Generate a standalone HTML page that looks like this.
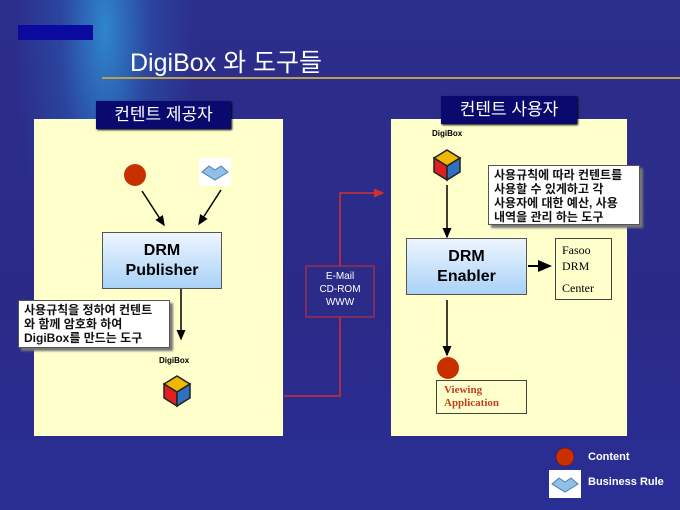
<!DOCTYPE html>
<html><head><meta charset="utf-8"><style>
body{margin:0;width:680px;height:510px;overflow:hidden;font-family:"Liberation Sans","Noto Sans CJK KR",sans-serif}
.bg{position:absolute;inset:0;background:radial-gradient(ellipse 90px 300px at 105px 30px,rgba(47,138,208,0.95) 0%,rgba(42,92,176,0.5) 50%,rgba(42,42,140,0) 100%),linear-gradient(180deg,#2c2e8c 0%,#2b2a88 60%,#2a2f95 100%)}
.a{position:absolute}
.panel{background:#ffffcc}
.lab{background:#0a0a6e;color:#fff;font-size:17px;text-align:center;box-shadow:1px 1px 2px #000}
.drm{background:linear-gradient(#eef5ff,#a9d2f7);border:1px solid #555;font-weight:bold;font-size:16px;text-align:center;line-height:20px;box-sizing:border-box}
.call{background:#fff;border:1px solid #555;box-shadow:3px 3px 2px #777;font-size:12px;line-height:14px;box-sizing:border-box;padding:2px 5px;font-weight:bold;color:#111}
.ser{font-family:"Liberation Serif","Noto Serif CJK SC",serif}
</style></head><body>
<div class="bg"></div>
<div class="a" style="left:18px;top:25px;width:75px;height:15px;background:#0a0a9e"></div>
<div class="a" style="left:130px;top:43px;color:#fff;font-size:25px">DigiBox 와 도구들</div>
<div class="a" style="left:102px;top:77px;width:578px;height:2px;background:#b8a050"></div>
<div class="a panel" style="left:34px;top:119px;width:249px;height:317px"></div>
<div class="a panel" style="left:391px;top:119px;width:236px;height:317px"></div>
<div class="a lab" style="left:96px;top:101px;width:135px;height:28px;line-height:28px">컨텐트 제공자</div>
<div class="a lab" style="left:441px;top:96px;width:136px;height:28px;line-height:28px">컨텐트 사용자</div>
<svg class="a" style="left:0;top:0" width="680" height="510">
<defs><marker id="m" markerWidth="7" markerHeight="7" refX="6" refY="3.5" orient="auto"><path d="M0,0.5 L7,3.5 L0,6.5z" fill="#000"/></marker>
<marker id="r" markerWidth="7" markerHeight="7" refX="6" refY="3.5" orient="auto"><path d="M0,0.5 L7,3.5 L0,6.5z" fill="#d03030"/></marker>
<g id="cube"><path d="M13,0 L26,8 L13,16 L0,8z" fill="#f0b800" stroke="#222" stroke-width="1.5"/><path d="M0,8 L13,16 L13,30 L0,22z" fill="#e02020" stroke="#222" stroke-width="1.5"/><path d="M26,8 L13,16 L13,30 L26,22z" fill="#3070c0" stroke="#222" stroke-width="1.5"/></g>
<g id="br"><rect width="32" height="28" fill="#fff"/><path d="M3,14 L10,8 L16,12 L22,8 L29,14 L16,22z" fill="#8ec0e8" stroke="#4a80b0"/></g></defs>
<circle cx="135" cy="175" r="11" fill="#c83000"/>
<use href="#br" x="199" y="158"/>
<line x1="142" y1="191" x2="164" y2="225" stroke="#000" stroke-width="1.5" marker-end="url(#m)"/>
<line x1="221" y1="190" x2="199" y2="224" stroke="#000" stroke-width="1.5" marker-end="url(#m)"/>
<line x1="181" y1="289" x2="181" y2="339" stroke="#000" stroke-width="1.5" marker-end="url(#m)"/>
<use href="#cube" x="164" y="376"/>
<polyline points="284,396 340,396 340,193 383,193" fill="none" stroke="#d03030" stroke-width="1.5" marker-end="url(#r)"/>
<rect x="306" y="266" width="68" height="51" fill="#2b2b8a" stroke="#d03030" stroke-width="1"/>
<use href="#cube" x="434" y="150"/>
<line x1="447" y1="185" x2="447" y2="237" stroke="#000" stroke-width="1.5" marker-end="url(#m)"/>
<line x1="528" y1="266" x2="550" y2="266" stroke="#000" stroke-width="2" marker-end="url(#m)"/>
<line x1="447" y1="300" x2="447" y2="355" stroke="#000" stroke-width="1.5" marker-end="url(#m)"/>
<circle cx="448" cy="368" r="11" fill="#c83000"/>
<circle cx="565" cy="457" r="9" fill="#c83000" stroke="#600" stroke-width="0.5"/>
<use href="#br" x="549" y="470"/>
</svg>
<div class="a drm" style="left:102px;top:232px;width:120px;height:57px;padding-top:8px">DRM<br>Publisher</div>
<div class="a drm" style="left:406px;top:238px;width:121px;height:57px;padding-top:8px">DRM<br>Enabler</div>
<div class="a call" style="left:18px;top:300px;width:152px;height:48px">사용규칙을 정하여 컨텐트<br>와 함께 암호화 하여<br>DigiBox를 만드는 도구</div>
<div class="a call" style="left:488px;top:165px;width:152px;height:60px">사용규칙에 따라 컨텐트를<br>사용할 수 있게하고 각<br>사용자에 대한 예산, 사용<br>내역을 관리 하는 도구</div>
<div class="a" style="left:159px;top:356px;font-size:8px;font-weight:bold">DigiBox</div>
<div class="a" style="left:432px;top:129px;font-size:8px;font-weight:bold">DigiBox</div>
<div class="a" style="left:306px;top:270px;width:68px;text-align:center;color:#fff;font-size:10px;line-height:13px">E-Mail<br>CD-ROM<br>WWW</div>
<div class="a ser" style="left:555px;top:238px;width:57px;height:62px;border:1px solid #444;box-sizing:border-box;font-size:12px;line-height:16px;padding:3px 0 0 6px">Fasoo<br>DRM<br><span style="position:relative;top:6px">Center</span></div>
<div class="a ser" style="left:436px;top:380px;width:91px;height:34px;border:1px solid #444;background:#ffffcc;box-sizing:border-box;font-size:11px;font-weight:bold;color:#c04020;line-height:13px;padding:3px 0 0 7px">Viewing<br>Application</div>
<div class="a" style="left:588px;top:451px;color:#fff;font-size:11px;font-weight:bold">Content</div>
<div class="a" style="left:588px;top:476px;color:#fff;font-size:11px;font-weight:bold">Business Rule</div>
</body></html>
